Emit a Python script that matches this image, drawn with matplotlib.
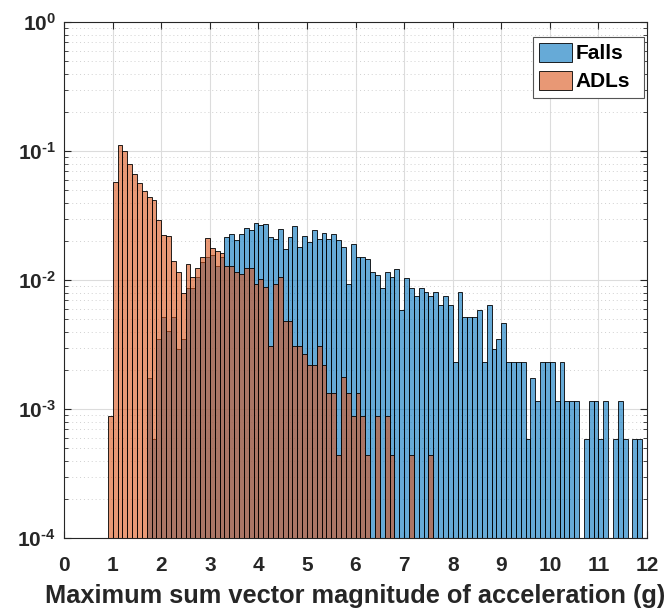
import numpy as np
import matplotlib
matplotlib.use("Agg")
import matplotlib.pyplot as plt
from matplotlib.ticker import FixedLocator, LogLocator, FuncFormatter, NullFormatter
from matplotlib.patches import Patch

plt.rcParams['font.family'] = ['Liberation Sans', 'DejaVu Sans']
plt.rcParams['mathtext.fontset'] = 'custom'
plt.rcParams['mathtext.rm'] = 'Liberation Sans:bold'
plt.rcParams['mathtext.bf'] = 'Liberation Sans:bold'
plt.rcParams['mathtext.it'] = 'Liberation Sans:bold'

# ---------------- data (probability per 0.1 g bin) ----------------
bin_width = 0.1
falls_start = 1.7
falls_prob = [
    0.00174, 0.000585, 0.00349, 0.00522, 0.00407, 0.00522, 0.00292, 0.00349,   # 1.7-2.4
    0.00867, 0.00867, 0.0106, 0.0139, 0.0151, 0.0156, 0.0129, 0.0151,          # 2.5-3.2
    0.0215, 0.0227, 0.0205, 0.0227, 0.0256, 0.0244, 0.0280, 0.0268,            # 3.3-4.0
    0.0273, 0.0215, 0.0208, 0.0250, 0.0174, 0.0215, 0.0262, 0.0180,            # 4.1-4.8
    0.0222, 0.0197, 0.0244, 0.0208, 0.0233, 0.0208, 0.0227, 0.0204,            # 4.9-5.6
    0.0180, 0.00931, 0.0192, 0.0151, 0.0151, 0.0146, 0.0116, 0.0110,           # 5.7-6.4
    0.00867, 0.0117, 0.0106, 0.0122, 0.00589, 0.0105, 0.00872, 0.00751,        # 6.5-7.2
    0.00872, 0.00816, 0.00751, 0.00816, 0.00640, 0.00756, 0.00640, 0.00232,    # 7.3-8.0
    0.00816, 0.00522, 0.00522, 0.00522, 0.00585, 0.00232, 0.00640, 0.00292,    # 8.1-8.8
    0.00349, 0.00465, 0.00232, 0.00232, 0.00232, 0.00232, 0.000585, 0.00174,   # 8.9-9.6
    0.00116, 0.00232, 0.00232, 0.00232, 0.00116, 0.00232, 0.00116, 0.00116,    # 9.7-10.4
    0.00116, 0.0, 0.000585, 0.00116, 0.00116, 0.000585, 0.00116, 0.0,          # 10.5-11.2
    0.000585, 0.00116, 0.000585, 0.0, 0.000585, 0.000585,                      # 11.3-11.8
]
adl_start = 0.9
adl_prob = [
    0.000887, 0.0581, 0.112, 0.1005, 0.0798, 0.0663, 0.0565, 0.0490,          # 0.9-1.6
    0.0440, 0.0417, 0.0293, 0.0226, 0.0222, 0.0141, 0.0115, 0.00793,           # 1.7-2.4
    0.0133, 0.0106, 0.0124, 0.0151, 0.0212, 0.0177, 0.0168, 0.0162,            # 2.5-3.2
    0.0129, 0.0129, 0.0115, 0.0112, 0.0124, 0.0124, 0.00931, 0.0102,           # 3.3-4.0
    0.00883, 0.00310, 0.00931, 0.0106, 0.00483, 0.00483, 0.00310, 0.00310,     # 4.1-4.8
    0.00267, 0.00220, 0.00220, 0.00310, 0.00221, 0.00133, 0.00133, 0.000440,   # 4.9-5.6
    0.00177, 0.00133, 0.000883, 0.00133, 0.000883, 0.000440, 0.0, 0.000883,    # 5.7-6.4
    0.0, 0.000883, 0.000440, 0.0, 0.0, 0.0, 0.000440, 0.0,                     # 6.5-7.2
    0.0, 0.0, 0.000440,                                                        # 7.3-7.5
]
series_names = ["Falls", "ADLs"]
x_ticks = list(range(0, 13))
y_ticks = [1e-4, 1e-3, 1e-2, 1e-1, 1e0]
x_label = "Maximum sum vector magnitude of acceleration (g)"

# ---------------- styling ----------------
falls_rgba = (0.0, 0.447, 0.741, 0.6)
adl_rgba = (0.85, 0.325, 0.098, 0.6)
txt_col = '#262626'

fig = plt.figure(figsize=(6.72, 6.08), dpi=100)
ax = fig.add_axes([0.0954, 0.1146, 0.9628 - 0.0954, 0.9633 - 0.1146])

def draw(start, vals, rgba, z):
    vals = np.asarray(vals, dtype=float)
    x = start + bin_width * np.arange(len(vals))
    m = vals > 0
    ax.bar(x[m], vals[m], width=bin_width, align='edge', bottom=1e-6,
           facecolor=rgba, edgecolor='black', linewidth=0.6, zorder=z)

draw(falls_start, falls_prob, falls_rgba, 2)
draw(adl_start, adl_prob, adl_rgba, 3)

ax.set_yscale('log')
ax.set_xlim(0, 12)
ax.set_ylim(1e-4, 1e0)

def ylab(v, p):
    e = int(round(np.log10(v)))
    s = ('-%d' % abs(e)) if e < 0 else ('%d' % e)
    return r'$\mathbf{10}^{\text{%s}}$' % s

ax.xaxis.set_major_locator(FixedLocator(x_ticks))
ax.yaxis.set_major_locator(FixedLocator(y_ticks))
ax.yaxis.set_minor_locator(LogLocator(base=10, subs=np.arange(2, 10)))
ax.yaxis.set_minor_formatter(NullFormatter())
ax.yaxis.set_major_formatter(FuncFormatter(ylab))

ax.grid(True, which='major', color='#dcdcdc', linewidth=0.8, linestyle='-', zorder=0)
ax.grid(True, which='minor', axis='y', color='#d0d0d0', linewidth=0.7, linestyle=(0, (1, 3)), zorder=0)
ax.set_axisbelow(True)

ax.tick_params(axis='both', which='both', direction='in', top=True, right=True,
               colors=txt_col, labelcolor=txt_col)
ax.tick_params(axis='both', which='major', length=5, width=0.8, labelsize=15)
ax.tick_params(axis='y', which='major', pad=6)
ax.tick_params(axis='x', which='major', pad=13)
ax.tick_params(axis='y', which='minor', length=3, width=0.6)
for lab in ax.get_xticklabels():
    lab.set_fontweight('bold')
for s in ax.spines.values():
    s.set_color(txt_col)
    s.set_linewidth(0.8)

ax.set_xlabel(x_label, fontsize=18.3, fontweight='bold', color=txt_col, labelpad=6)

handles = [Patch(facecolor=falls_rgba, edgecolor='black', linewidth=0.6),
           Patch(facecolor=adl_rgba, edgecolor='black', linewidth=0.6)]
leg = ax.legend(handles, series_names, loc='upper left',
                bbox_to_anchor=(0.8044, 0.0, 0.1905, 0.9721), mode='expand',
                prop={'weight': 'bold', 'size': 15}, fancybox=False, framealpha=1,
                edgecolor='#555555', handlelength=1.55, handleheight=1.0,
                handletextpad=0.2, borderpad=0.3, labelspacing=0.36, borderaxespad=0.0)
leg.get_frame().set_linewidth(0.8)
for t in leg.get_texts():
    t.set_color('black')

fig.savefig('out.png', dpi=100)
